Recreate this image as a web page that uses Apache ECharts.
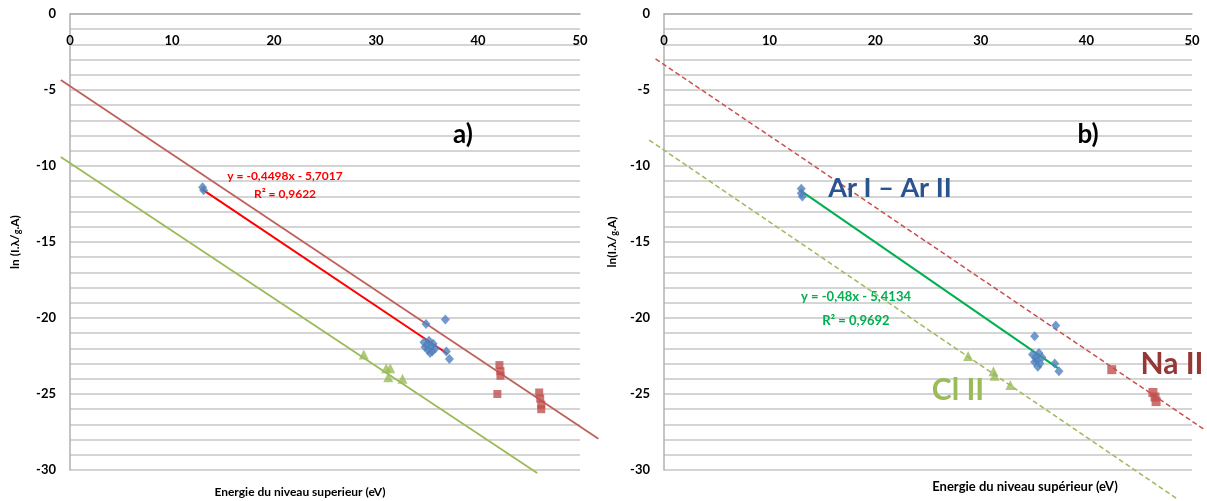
<!DOCTYPE html>
<html>
<head>
<meta charset="utf-8">
<script src="https://cdn.jsdelivr.net/npm/echarts@6/dist/echarts.min.js"></script>
<style>
  html, body { margin: 0; padding: 0; background: #fff; }
  #chart { width: 1207px; height: 501px; }
</style>
</head>
<body>
<div id="chart"></div>
<script>
// axis ticks
var xTicks = [0, 10, 20, 30, 40, 50];
var yTicks = [0, -5, -10, -15, -20, -25, -30];

// panel a) points [energie, ln]
var arPointsA = [[13.0, -11.4], [13.1, -11.6], [34.9, -20.4], [36.8, -20.1], [34.7, -21.6], [35.0, -21.8],
    [35.2, -21.5], [35.4, -21.9], [35.1, -22.1], [35.5, -22.2], [35.3, -22.3], [34.8, -21.9],
    [35.6, -21.7], [35.8, -22.0], [36.9, -22.2], [37.2, -22.7]];
var naPointsA = [[42.1, -23.1], [42.2, -23.5], [42.2, -23.8], [41.9, -25.0], [46.0, -24.9],
    [46.1, -25.3], [46.2, -25.7], [46.2, -26.0]];
var clPointsA = [[28.8, -22.4], [31.0, -23.3], [31.4, -23.3], [31.2, -23.9], [32.6, -24.0]];
var fitA = [[13.0, -11.55], [37.0, -22.35]];
var naLineA = [[-0.9, -4.35], [51.8, -27.95]];
var clLineA = [[-0.9, -9.4], [45.8, -30.2]];

// panel b)
var arPointsB = [[13.0, -11.5], [13.0, -11.8], [13.1, -12.0], [35.1, -21.2], [37.1, -20.5], [34.9, -22.4],
    [35.2, -22.6], [35.5, -22.3], [35.3, -22.8], [35.6, -23.0], [35.1, -22.9], [35.8, -22.6],
    [35.4, -23.2], [37.0, -23.0], [37.4, -23.5]];
var naPointsB = [[42.4, -23.4], [46.3, -24.9], [46.5, -25.2], [46.6, -25.5]];
var clPointsB = [[28.8, -22.5], [31.2, -23.5], [31.3, -23.8], [32.8, -24.4]];
var fitB = [[13.0, -11.65], [37.3, -23.3]];
var naLineB = [[-0.8, -2.95], [51.3, -27.4]];
var clLineB = [[-1.4, -8.3], [48.5, -31.85]];

var FONT = 'Lato, "Open Sans", sans-serif';

// plot areas (px) and the wider hidden range used for the trendlines that run past the axes
var plots = [{ left: 70, width: 510, ext: [-2, 53] }, { left: 664, width: 528, ext: [-2, 51.3] }];
var TOP = 14, HEIGHT = 456;
var extYmin = -32;

function xAxisOf(grid) {
    return {
        gridIndex: grid, type: 'value', position: 'top',
        min: xTicks[0], max: xTicks[xTicks.length - 1], interval: 10,
        axisLine: { show: true, lineStyle: { color: '#b0b0b0', width: 1.5 } },
        axisTick: { show: false },
        axisLabel: { inside: true, margin: 20, color: '#000', fontWeight: 'bold', fontSize: 13, fontFamily: FONT },
        splitLine: { show: false }
    };
}

function yAxisOf(grid, name, gap) {
    return {
        gridIndex: grid, type: 'value',
        min: yTicks[yTicks.length - 1], max: yTicks[0], interval: 5,
        axisLine: { show: true, onZero: false, lineStyle: { color: '#b0b0b0', width: 1.5 } },
        axisTick: { show: false },
        axisLabel: { margin: 14, color: '#000', fontWeight: 'bold', fontSize: 13, fontFamily: FONT },
        splitLine: { show: true, lineStyle: { color: '#c4c4c4', width: 1.5 } },
        minorTick: { show: false, splitNumber: 5 },
        minorSplitLine: { show: true, lineStyle: { color: '#c8c8c8', width: 1.5 } },
        name: name, nameLocation: 'middle', nameGap: gap,
        nameTextStyle: {
            color: '#000', fontWeight: 'bold', fontSize: 12, fontFamily: FONT,
            rich: { s: { fontSize: 9, fontWeight: 'bold', fontFamily: FONT, padding: [4, 0, 0, 0] } }
        }
    };
}

// hidden grid with the same px per unit, covering a wider value range (kept inside the canvas)
function extGrid(p) {
    var ppx = p.width / (xTicks[xTicks.length - 1] - xTicks[0]);
    var ppy = HEIGHT / (yTicks[0] - yTicks[yTicks.length - 1]);
    return {
        left: p.left + (p.ext[0] - xTicks[0]) * ppx,
        width: (p.ext[1] - p.ext[0]) * ppx,
        top: TOP,
        height: (yTicks[0] - extYmin) * ppy
    };
}

function hiddenX(grid, p) {
    return { gridIndex: grid, type: 'value', min: p.ext[0], max: p.ext[1], show: false, splitLine: { show: false } };
}
function hiddenY(grid) {
    return { gridIndex: grid, type: 'value', min: extYmin, max: yTicks[0], show: false, splitLine: { show: false } };
}

function scatter(data, grid, symbol, color, size) {
    return {
        type: 'scatter', xAxisIndex: grid, yAxisIndex: grid, data: data,
        symbol: symbol, symbolSize: size, itemStyle: { color: color }, z: 5
    };
}

function line(data, grid, color, width, dashed) {
    return {
        type: 'line', xAxisIndex: grid, yAxisIndex: grid, data: data, clip: false,
        showSymbol: false, symbol: 'none',
        lineStyle: { color: color, width: width, type: dashed ? [5, 3] : 'solid' }, z: 3
    };
}

function text(str, x, y, size, color, weight) {
    return {
        type: 'text', x: x, y: y, z: 10,
        style: {
            text: str, fill: color, textAlign: 'center', textVerticalAlign: 'middle',
            font: (weight || 'bold') + ' ' + size + 'px ' + FONT
        }
    };
}

var chart = echarts.init(document.getElementById('chart'));
chart.setOption({
    animation: false,
    grid: [
        { left: plots[0].left, top: TOP, width: plots[0].width, height: HEIGHT },
        { left: plots[1].left, top: TOP, width: plots[1].width, height: HEIGHT },
        extGrid(plots[0]),
        extGrid(plots[1])
    ],
    xAxis: [xAxisOf(0), xAxisOf(1), hiddenX(2, plots[0]), hiddenX(3, plots[1])],
    yAxis: [yAxisOf(0, 'ln (I.λ/{s|g}.A)', 48), yAxisOf(1, 'ln(I.λ/{s|g}.A)', 45), hiddenY(2), hiddenY(3)],
    series: [
        line(naLineA, 2, '#c0605c', 1.8, false),
        line(clLineA, 2, '#9bbb59', 1.8, false),
        line(fitA, 0, '#ff0000', 2, false),
        scatter(arPointsA, 0, 'diamond', '#4f81bd', [9, 10]),
        scatter(naPointsA, 0, 'rect', '#c0504d', 8),
        scatter(clPointsA, 0, 'triangle', '#9bbb59', 10),

        line(naLineB, 3, '#c9504d', 1.5, true),
        line(clLineB, 3, '#9bbb59', 1.5, true),
        line(fitB, 1, '#00b050', 2, false),
        scatter(arPointsB, 1, 'diamond', '#4f81bd', [9, 10]),
        scatter(naPointsB, 1, 'rect', '#c0504d', 9),
        scatter(clPointsB, 1, 'triangle', '#9bbb59', 10)
    ],
    graphic: [
        text('a)', 463, 135, 26, '#000'),
        text('b)', 1088, 135, 26, '#000'),
        text('y = -0,4498x - 5,7017', 285, 176, 12, '#ff0000'),
        text('R² = 0,9622', 285, 194, 12, '#ff0000'),
        text('y = -0,48x - 5,4134', 856, 297, 13, '#00b050'),
        text('R² = 0,9692', 856, 321, 13, '#00b050'),
        text('Ar I – Ar II', 890, 188, 27, '#2a5490'),
        text('Na II', 1172, 364, 30, '#953735'),
        text('Cl II', 958, 390, 30, '#9bbb59'),
        text('Energie du niveau superieur (eV)', 300, 492, 12, '#000'),
        text('Energie du niveau supérieur (eV)', 1025, 487, 13, '#000')
    ]
});
</script>
</body>
</html>
